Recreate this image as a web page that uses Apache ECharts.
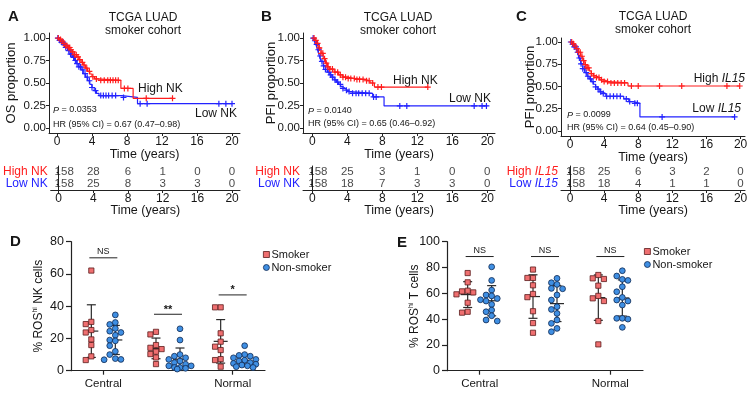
<!DOCTYPE html>
<html><head><meta charset="utf-8">
<script src="https://cdn.jsdelivr.net/npm/echarts@6/dist/echarts.min.js"></script>
<style>html,body{margin:0;padding:0;background:#fff}#c{width:756px;height:400px}</style>
</head><body><div id="c"></div>
<script>
// ================= DATA =================
const timeTicks = [0, 4, 8, 12, 16, 20];
const survTicks = [0, 0.25, 0.5, 0.75, 1.0];

// Panel A : OS, NK score
const A_highSteps = [[0,1],[0.25,0.985],[0.5,0.965],[0.75,0.94],[1.0,0.915],[1.25,0.895],[1.5,0.87],[1.75,0.845],[2.0,0.815],[2.25,0.79],[2.5,0.76],[2.75,0.73],[3.0,0.70],[3.25,0.665],[3.5,0.63],[3.75,0.6],[4.0,0.57],[4.3,0.545],[4.6,0.53],[7.3,0.44],[8.7,0.33]];
const A_highEnd = 13.2;
const A_highCensor = [0.15,0.4,0.6,0.8,1.0,1.15,1.3,1.45,1.6,1.8,2.0,2.2,2.4,2.6,2.9,3.1,3.4,3.7,4.1,4.5,5.0,5.4,5.8,6.1,6.4,6.7,7.0,7.7,8.1,10.2,13.2];
const A_lowSteps = [[0,1],[0.25,0.975],[0.5,0.955],[0.75,0.925],[1.0,0.895],[1.25,0.86],[1.5,0.82],[1.75,0.785],[2.0,0.75],[2.25,0.715],[2.5,0.68],[2.75,0.645],[3.0,0.605],[3.25,0.565],[3.5,0.525],[3.75,0.485],[4.0,0.45],[4.25,0.415],[4.5,0.385],[4.8,0.36],[7.4,0.34],[9.2,0.27]];
const A_lowEnd = 20;
const A_lowCensor = [0.1,0.3,0.5,0.7,0.85,1.0,1.2,1.35,1.55,1.7,1.9,2.1,2.3,2.5,2.7,2.95,3.2,3.45,3.7,4.0,4.4,5.0,5.3,5.6,5.9,6.3,6.7,7.6,9.5,10.3,18.5,19.3,20];
const A_riskRows = ['High NK', 'Low NK'];
const A_riskHigh = [158, 28, 6, 1, 0, 0];
const A_riskLow = [158, 25, 8, 3, 3, 0];

// Panel B : PFI, NK score
const B_highSteps = [[0,1],[0.25,0.975],[0.5,0.94],[0.75,0.89],[1.0,0.83],[1.25,0.77],[1.5,0.72],[1.75,0.68],[2.0,0.655],[2.5,0.62],[3.0,0.59],[3.5,0.565],[4.0,0.55],[5.0,0.54],[6.0,0.525],[6.6,0.5],[7.1,0.455]];
const B_highEnd = 13.2;
const B_highCensor = [0.2,0.4,0.6,0.8,1.0,1.2,1.4,1.6,1.8,2.0,2.3,2.6,2.9,3.2,3.5,3.8,4.1,4.4,4.8,5.1,5.4,5.8,6.2,6.5,6.9,7.5,7.9,13.2];
const B_lowSteps = [[0,1],[0.2,0.97],[0.4,0.93],[0.6,0.87],[0.8,0.8],[1.0,0.74],[1.25,0.69],[1.5,0.65],[1.75,0.62],[2.0,0.59],[2.25,0.565],[2.5,0.535],[2.75,0.51],[3.0,0.485],[3.25,0.46],[3.5,0.44],[3.75,0.42],[4.0,0.405],[4.3,0.385],[6.9,0.345],[8.2,0.245]];
const B_lowEnd = 20;
const B_lowCensor = [0.1,0.3,0.5,0.7,0.9,1.1,1.3,1.5,1.7,1.9,2.1,2.3,2.6,2.9,3.2,3.5,3.9,4.2,4.6,5.0,5.3,5.7,6.1,6.5,7.0,7.3,10.0,10.8,18.5,19.4,19.9];
const B_riskRows = ['High NK', 'Low NK'];
const B_riskHigh = [158, 25, 3, 1, 0, 0];
const B_riskLow = [158, 18, 7, 3, 3, 0];

// Panel C : PFI, IL15
const C_highSteps = [[0,1],[0.25,0.98],[0.5,0.955],[0.75,0.925],[1.0,0.885],[1.25,0.84],[1.5,0.79],[1.75,0.745],[2.0,0.71],[2.25,0.675],[2.5,0.645],[2.75,0.62],[3.0,0.6],[3.5,0.575],[4.0,0.555],[4.5,0.54],[6.8,0.505]];
const C_highEnd = 19.9;
const C_highCensor = [0.2,0.4,0.6,0.8,1.0,1.2,1.4,1.6,1.8,2.0,2.2,2.5,2.8,3.1,3.4,3.7,4.0,4.4,4.8,5.2,5.6,6.0,6.4,7.2,8.0,10.5,13.1,18.4,19.9];
const C_lowSteps = [[0,1],[0.25,0.975],[0.5,0.945],[0.75,0.885],[1.0,0.82],[1.25,0.755],[1.5,0.7],[1.75,0.655],[2.0,0.615],[2.25,0.585],[2.5,0.555],[2.75,0.525],[3.0,0.495],[3.25,0.47],[3.5,0.44],[3.75,0.42],[4.2,0.39],[6.3,0.36],[6.9,0.33],[7.4,0.31],[8.2,0.158]];
const C_lowEnd = 19.3;
const C_lowCensor = [0.1,0.3,0.5,0.7,0.9,1.1,1.3,1.5,1.7,1.9,2.1,2.4,2.7,3.0,3.3,3.6,3.9,4.3,4.7,5.1,5.5,5.9,6.6,7.0,7.6,7.9,10.8,19.3];
const C_riskRows = ['High IL15', 'Low IL15'];
const C_riskHigh = [158, 25, 6, 3, 2, 0];
const C_riskLow = [158, 18, 4, 1, 1, 0];

// Panels D / E : scatter dot plots
const categories = ['Central', 'Peripheral', 'Normal'];
const D_smoker = [
  [62.1, 30.3, 28.9, 25.2, 23.7, 19.4, 15.9, 8.9, 6.6],
  [24.1, 22.5, 15.9, 14.2, 13.4, 11.8, 10.3, 8.2, 4.1],
  [39.3, 39.3, 23.2, 18.0, 14.9, 12.8, 7.2, 6.6, 2.5]
];
const D_nonSmoker = [
  [34.6, 29.9, 28.7, 26.2, 24.5, 23.7, 22, 19, 18.5, 15.5, 12, 10, 7.5, 7, 6.8],
  [26, 19, 10, 9, 8, 7, 6, 5, 4, 3, 3, 2, 2, 1.5, 1],
  [15.5, 10, 9.5, 9, 8, 7, 6.5, 6, 5, 4.5, 4, 3.5, 3, 2.5, 2]
];
const D_sigLabels = ['NS', '**', '*'];
const D_sigHeights = [70, 35, 47];
const E_smoker = [
  [75.7, 68.5, 62, 61.5, 60.7, 59.2, 52.7, 45.7, 45],
  [78.4, 71.9, 71.9, 66.2, 59.5, 57, 46.1, 36.9, 29.4],
  [74.2, 71.6, 71.1, 65.9, 58, 56.1, 54, 38.5, 20.4]
];
const E_nonSmoker = [
  [80.5, 70, 62.5, 58.7, 58, 56, 55, 54, 51.4, 47, 45.7, 42.6, 39.3, 38.5],
  [71.6, 68.2, 66.9, 63.8, 63.5, 58.7, 54.8, 49.6, 47.5, 44.4, 39.3, 36.7, 32.8, 30.2],
  [77.5, 73.4, 70.8, 70, 65.1, 61.2, 56.8, 54.8, 54, 50.9, 40.6, 40.6, 40, 33.6]
];
const E_sigLabels = ['NS', 'NS', 'NS'];
const E_sigHeights = [88.5, 88.5, 88.5];

// ================= STYLE =================
const FONT = '"Liberation Sans", Arial, Helvetica, sans-serif';
const RED = '#ff1d1d', BLUE = '#2323ff', INK = '#161616', AX = '#222';
const SQ_FILL = '#ef6f70', SQ_EDGE = '#5a1c1c';
const CI_FILL = '#3f8fe3', CI_EDGE = '#0f2850';
const GROUP_OFF = 12;
const CROSS = 'path://M2,0L3,0L3,2L5,2L5,3L3,3L3,5L2,5L2,3L0,3L0,2L2,2Z';

// ================= HELPERS =================
function survAt(steps, t) { let s = 1; for (const p of steps) { if (p[0] <= t) s = p[1]; else break; } return s; }
function kmLineData(steps, end) { return steps.concat([[end, steps[steps.length - 1][1]]]); }
function censorData(steps, times) { return times.map(t => [t, survAt(steps, t)]); }

function kmSeries(g, steps, end, censor, color) {
  return [
    { type: 'line', xAxisIndex: g, yAxisIndex: g, data: kmLineData(steps, end), step: 'end', showSymbol: false,
      lineStyle: { color, width: 1.2 }, itemStyle: { color }, z: 3, silent: true },
    { type: 'scatter', xAxisIndex: g, yAxisIndex: g, data: censorData(steps, censor), symbol: CROSS, symbolSize: 6,
      itemStyle: { color, opacity: 1 }, z: 4, silent: true }
  ];
}
function riskSeries(g, highCounts, lowCounts) {
  const data = [];
  timeTicks.forEach((t, i) => {
    const lab = i === 0 ? { align: 'left', offset: [-4, 0] } : undefined;
    data.push({ value: [t, 0, highCounts[i]], label: lab });
    data.push({ value: [t, 1, lowCounts[i]], label: lab });
  });
  return { type: 'scatter', xAxisIndex: g, yAxisIndex: g, data, symbolSize: 0.01, silent: true,
    label: { show: true, position: 'inside', formatter: p => String(p.value[2]), fontSize: 11.5, color: INK, fontFamily: FONT } };
}
function kmXAxis(g, min, max, gap) {
  return { type: 'value', gridIndex: g, min, max,
    axisLine: { show: true, onZero: false, lineStyle: { color: AX, width: 1 } },
    axisTick: { show: true, length: 3, customValues: timeTicks, lineStyle: { color: AX } },
    axisLabel: { show: true, customValues: timeTicks, fontSize: 12, color: INK, margin: 3, fontFamily: FONT },
    splitLine: { show: false },
    name: 'Time (years)', nameLocation: 'middle', nameGap: gap, nameMoveOverlap: false,
    nameTextStyle: { fontSize: 12.5, color: INK, fontFamily: FONT } };
}
function kmYAxis(g, min, max, name, gap) {
  return { type: 'value', gridIndex: g, min, max,
    axisLine: { show: true, onZero: false, lineStyle: { color: AX, width: 1 } },
    axisTick: { show: true, length: 3, customValues: survTicks, lineStyle: { color: AX } },
    axisLabel: { show: true, customValues: survTicks, formatter: v => v.toFixed(2), fontSize: 11.5, color: INK, margin: 3, fontFamily: FONT },
    splitLine: { show: false },
    name, nameLocation: 'middle', nameRotate: 90, nameGap: gap, nameMoveOverlap: false,
    nameTextStyle: { fontSize: 13, color: INK, fontFamily: FONT } };
}
function riskYAxis(g, rows) {
  return { type: 'category', gridIndex: g, data: rows, inverse: true,
    axisLine: { show: true, lineStyle: { color: AX, width: 1 } },
    axisTick: { show: true, length: 2, alignWithLabel: true, interval: 0, lineStyle: { color: AX } },
    axisLabel: { margin: 3, fontSize: 12, fontFamily: FONT, interval: 0,
      formatter: (v, i) => {
        const key = i === 0 ? 'r' : 'b';
        return v.indexOf('IL15') >= 0 ? `{${key}|${v.replace('IL15', '')}}{${key}i|IL15}` : `{${key}|${v}}`;
      },
      rich: { r: { color: RED, fontSize: 12 }, b: { color: BLUE, fontSize: 12 },
              ri: { color: RED, fontSize: 12, fontStyle: 'italic' }, bi: { color: BLUE, fontSize: 12, fontStyle: 'italic' } } } };
}

// beeswarm-like spread, computed in pixel space through the axis scale
function swarmOffsets(api, vals, c) {
  const pts = vals.map((v, i) => ({ i, y: api.coord([c, v])[1] }));
  pts.sort((a, b) => a.y - b.y);
  const placed = [], off = new Array(vals.length).fill(0);
  const gap = 5.6, minD = 5.4;
  const cands = [0, -gap, gap, -2 * gap, 2 * gap, -gap / 2, gap / 2, -1.5 * gap, 1.5 * gap];
  for (const p of pts) {
    let best = 0, bestD = -1;
    for (const cand of cands) {
      const d = placed.reduce((m, q) => Math.min(m, Math.hypot(q.x - cand, q.y - p.y)), Infinity);
      if (d >= minD) { best = cand; bestD = Infinity; break; }
      if (d > bestD) { bestD = d; best = cand; }
    }
    off[p.i] = best; placed.push({ x: best, y: p.y });
  }
  return off;
}
function pointSeries(name, g, groups, side, shape) {
  const data = [];
  groups.forEach((vals, c) => vals.forEach((v, i) => data.push([c, v, i])));
  const fill = shape === 'rect' ? SQ_FILL : CI_FILL, edge = shape === 'rect' ? SQ_EDGE : CI_EDGE;
  return { type: 'custom', name, xAxisIndex: g, yAxisIndex: g, data, z: 5, silent: true,
    encode: { x: 0, y: 1 }, itemStyle: { color: fill, borderColor: edge },
    renderItem(params, api) {
      const c = api.value(0), v = api.value(1), i = api.value(2);
      const offs = swarmOffsets(api, groups[c], c);
      const p = api.coord([c, v]);
      const x = p[0] + side * GROUP_OFF + offs[i], y = p[1];
      if (shape === 'rect') return { type: 'rect', shape: { x: x - 2.6, y: y - 2.6, width: 5.2, height: 5.2 }, style: { fill, stroke: edge, lineWidth: 0.8 } };
      return { type: 'circle', shape: { cx: x, cy: y, r: 2.9 }, style: { fill, stroke: edge, lineWidth: 0.8 } };
    } };
}
function meanSd(vals) {
  const m = vals.reduce((a, b) => a + b, 0) / vals.length;
  const sd = Math.sqrt(vals.reduce((a, b) => a + (b - m) * (b - m), 0) / (vals.length - 1));
  return [m, sd];
}
function errorSeries(g, groups, side) {
  const data = groups.map((vals, c) => { const ms = meanSd(vals); return [c, ms[0], ms[1]]; });
  return { type: 'custom', xAxisIndex: g, yAxisIndex: g, data, z: 4, silent: true, encode: { x: 0, y: 1 },
    renderItem(params, api) {
      const c = api.value(0), m = api.value(1), sd = api.value(2);
      const pm = api.coord([c, m]);
      const x = pm[0] + side * GROUP_OFF;
      const yt = api.coord([c, m + sd])[1];
      const lo = m - sd;
      const yb = api.coord([c, Math.max(lo, 0)])[1];
      const st = { stroke: '#2a2a2a', lineWidth: 1.2 };
      const ch = [
        { type: 'line', shape: { x1: x, y1: yt, x2: x, y2: yb }, style: st },
        { type: 'line', shape: { x1: x - 4.5, y1: yt, x2: x + 4.5, y2: yt }, style: st },
        { type: 'line', shape: { x1: x - 7, y1: pm[1], x2: x + 7, y2: pm[1] }, style: st }
      ];
      if (lo > 0) ch.push({ type: 'line', shape: { x1: x - 4.5, y1: yb, x2: x + 4.5, y2: yb }, style: st });
      return { type: 'group', children: ch };
    } };
}
function sigSeries(g, labels, heights) {
  const data = heights.map((h, c) => [c, h, c]);
  return { type: 'custom', xAxisIndex: g, yAxisIndex: g, data, z: 6, silent: true, encode: { x: 0, y: 1 },
    renderItem(params, api) {
      const c = api.value(0), h = api.value(1);
      const p = api.coord([c, h]);
      const txt = labels[c];
      const star = txt.indexOf('*') >= 0;
      return { type: 'group', children: [
        { type: 'line', shape: { x1: p[0] - 14, y1: p[1], x2: p[0] + 14, y2: p[1] }, style: { stroke: '#222', lineWidth: 1 } },
        { type: 'text', style: { text: txt, x: p[0], y: star ? p[1] + 1 : p[1] - 2, textAlign: 'center', align: 'center',
          textVerticalAlign: 'bottom', verticalAlign: 'bottom', font: (star ? 'bold 11px ' : '9px ') + FONT, fill: INK } }
      ] };
    } };
}
function dotXAxis(g) {
  return { type: 'category', gridIndex: g, data: categories, boundaryGap: true,
    axisLine: { show: true, lineStyle: { color: AX, width: 1.2 } },
    axisTick: { show: true, alignWithLabel: true, length: 4, lineStyle: { color: AX, width: 1.2 } },
    axisLabel: { fontSize: 11.5, color: INK, margin: 7, fontFamily: FONT } };
}
function dotYAxis(g, max, name) {
  return { type: 'value', gridIndex: g, min: 0, max, interval: 20,
    axisLine: { show: true, lineStyle: { color: AX, width: 1.2 } },
    axisTick: { show: true, length: 5, lineStyle: { color: AX, width: 1.2 } },
    axisLabel: { fontSize: 12.5, color: INK, margin: 7, fontFamily: FONT },
    splitLine: { show: false },
    name, nameLocation: 'middle', nameRotate: 90, nameGap: 25, nameMoveOverlap: false,
    nameTextStyle: { fontSize: 12, color: INK, fontFamily: FONT, rich: { s: { fontSize: 7, padding: [0, 0, 7, 0], fontFamily: FONT, color: INK } } } };
}

// ================= LAYOUT =================
const grids = [
  { left: 49, top: 33, width: 191, height: 100 },     // 0 A KM
  { left: 303, top: 33, width: 192, height: 100 },    // 1 B KM
  { left: 561, top: 38, width: 184, height: 98 },     // 2 C KM
  { left: 49, top: 166, width: 191, height: 24 },     // 3 A risk
  { left: 303, top: 166, width: 192, height: 24 },    // 4 B risk
  { left: 561, top: 166, width: 184, height: 24 },    // 5 C risk
  { left: 71, top: 241.7, width: 194, height: 129 },  // 6 D
  { left: 447, top: 241.7, width: 196, height: 129 }  // 7 E
];
const xr = [[-0.914, 20.914], [-1.063, 20.88], [-1.055, 20.52]];
const yr = [[-0.056, 1.056], [-0.056, 1.056], [-0.057, 1.045]];

const xAxis = [
  kmXAxis(0, xr[0][0], xr[0][1], 15), kmXAxis(1, xr[1][0], xr[1][1], 15), kmXAxis(2, xr[2][0], xr[2][1], 15),
  kmXAxis(3, xr[0][0], xr[0][1], 14), kmXAxis(4, xr[1][0], xr[1][1], 14), kmXAxis(5, xr[2][0], xr[2][1], 14),
  dotXAxis(6), dotXAxis(7)
];
const yAxis = [
  kmYAxis(0, yr[0][0], yr[0][1], 'OS proportion', 31), kmYAxis(1, yr[1][0], yr[1][1], 'PFI proportion', 25), kmYAxis(2, yr[2][0], yr[2][1], 'PFI proportion', 24),
  riskYAxis(3, A_riskRows), riskYAxis(4, B_riskRows), riskYAxis(5, C_riskRows),
  dotYAxis(6, 80, '% ROS{s|hi} NK cells'), dotYAxis(7, 100, '% ROS{s|hi} T cells')
];

const series = [].concat(
  kmSeries(0, A_lowSteps, A_lowEnd, A_lowCensor, BLUE), kmSeries(0, A_highSteps, A_highEnd, A_highCensor, RED),
  kmSeries(1, B_lowSteps, B_lowEnd, B_lowCensor, BLUE), kmSeries(1, B_highSteps, B_highEnd, B_highCensor, RED),
  kmSeries(2, C_lowSteps, C_lowEnd, C_lowCensor, BLUE), kmSeries(2, C_highSteps, C_highEnd, C_highCensor, RED),
  [riskSeries(3, A_riskHigh, A_riskLow), riskSeries(4, B_riskHigh, B_riskLow), riskSeries(5, C_riskHigh, C_riskLow)],
  [errorSeries(6, D_smoker, -1), errorSeries(6, D_nonSmoker, 1),
   pointSeries('Smoker', 6, D_smoker, -1, 'rect'), pointSeries('Non-smoker', 6, D_nonSmoker, 1, 'circle'),
   sigSeries(6, D_sigLabels, D_sigHeights)],
  [errorSeries(7, E_smoker, -1), errorSeries(7, E_nonSmoker, 1),
   pointSeries('Smoker', 7, E_smoker, -1, 'rect'), pointSeries('Non-smoker', 7, E_nonSmoker, 1, 'circle'),
   sigSeries(7, E_sigLabels, E_sigHeights)]
);

function legendAt(left, top) {
  return { left, top, orient: 'vertical', itemWidth: 6, itemHeight: 6, itemGap: 2, padding: 0, selectedMode: false,
    textStyle: { fontSize: 11, color: INK, fontFamily: FONT, padding: [0, 0, 0, -3] },
    data: [
      { name: 'Smoker', icon: 'rect', itemStyle: { color: SQ_FILL, borderColor: SQ_EDGE, borderWidth: 0.8 } },
      { name: 'Non-smoker', icon: 'circle', itemStyle: { color: CI_FILL, borderColor: CI_EDGE, borderWidth: 0.8 } }
    ] };
}

function txt(x, y, text, size, opt) {
  opt = opt || {};
  return { type: 'text', x, y, silent: true, style: Object.assign({ text, font: (opt.bold ? 'bold ' : '') + size + 'px ' + FONT, fill: opt.fill || INK,
    textAlign: opt.align || 'left', textVerticalAlign: 'middle', align: opt.align || 'left', verticalAlign: 'middle' }, opt.rich ? { rich: opt.rich } : {}) };
}
const richP = { i: { fontStyle: 'italic', fontSize: 9, fontFamily: FONT }, n: { fontSize: 9, fontFamily: FONT } };
const richIL = { n: { fontSize: 12, fontFamily: FONT }, i: { fontSize: 12, fontStyle: 'italic', fontFamily: FONT } };
const graphic = [
  txt(8, 17, 'A', 15, { bold: true }), txt(261, 17, 'B', 15, { bold: true }), txt(516, 17, 'C', 15, { bold: true }),
  txt(10, 242, 'D', 15, { bold: true }), txt(397, 243, 'E', 15, { bold: true }),
  txt(143, 17.5, 'TCGA LUAD', 12, { align: 'center' }), txt(143, 30.5, 'smoker cohort', 12, { align: 'center' }),
  txt(398, 17.5, 'TCGA LUAD', 12, { align: 'center' }), txt(398, 30.5, 'smoker cohort', 12, { align: 'center' }),
  txt(653, 17, 'TCGA LUAD', 12, { align: 'center' }), txt(653, 30, 'smoker cohort', 12, { align: 'center' }),
  txt(138, 89, 'High NK', 12), txt(237, 114, 'Low NK', 12, { align: 'right' }),
  txt(53, 110, '{i|P}{n| = 0.0353}', 9, { rich: richP }), txt(53, 125, 'HR (95% CI) = 0.67 (0.47–0.98)', 9),
  txt(393, 81, 'High NK', 12), txt(491, 99, 'Low NK', 12, { align: 'right' }),
  txt(308, 111, '{i|P}{n| = 0.0140}', 9, { rich: richP }), txt(308, 123.5, 'HR (95% CI) = 0.65 (0.46–0.92)', 9),
  txt(745, 79, '{n|High }{i|IL15}', 12, { align: 'right', rich: richIL }), txt(741, 109, '{n|Low }{i|IL15}', 12, { align: 'right', rich: richIL }),
  txt(567, 115, '{i|P}{n| = 0.0099}', 9, { rich: richP }), txt(567, 127.5, 'HR (95% CI) = 0.64 (0.45–0.90)', 9)
];

const chart = echarts.init(document.getElementById('c'), null, { renderer: 'canvas' });
chart.setOption({
  animation: false, backgroundColor: '#fff',
  textStyle: { fontFamily: FONT },
  grid: grids, xAxis, yAxis, series,
  legend: [legendAt(263, 249), legendAt(644, 246)],
  graphic
});
</script></body></html>
